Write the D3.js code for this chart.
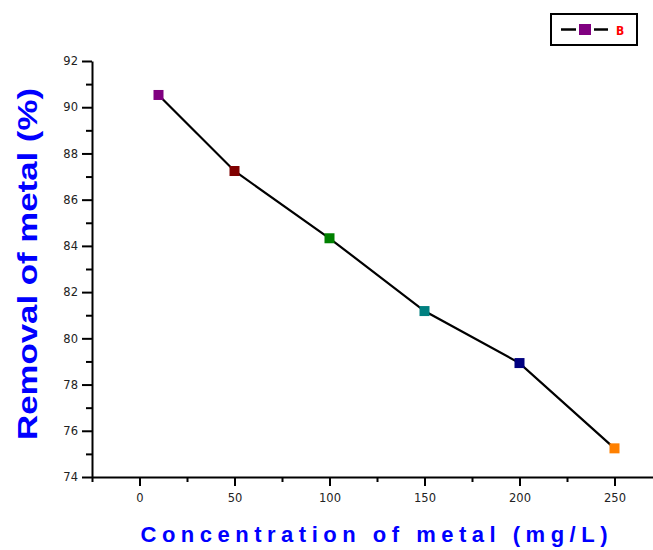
<!DOCTYPE html>
<html>
<head>
<meta charset="utf-8">
<script src="https://cdn.jsdelivr.net/npm/d3@7"></script>
<style>
  body { margin: 0; background: #fff; }
  svg { display: block; }
</style>
</head>
<body>
<svg id="chart" width="653" height="550"></svg>
<script>
// data
var concentration = [10, 50, 100, 150, 200, 250];
var removal = [90.53, 87.24, 84.33, 81.18, 78.93, 75.24];
var pointColours = ["#800080", "#800000", "#008000", "#008080", "#000080", "#ff8000"];
var xTicks = [0, 50, 100, 150, 200, 250];
var yTicks = [74, 76, 78, 80, 82, 84, 86, 88, 90, 92];
var seriesName = "B";

const svg = d3.select('#chart');

var x = d3.scaleLinear().domain([-25, 275]).range([92, 662]);
var y = d3.scaleLinear().domain([74, 92]).range([477, 61]);

// minor ticks first
svg.append('g')
    .attr('transform', 'translate(0,477)')
    .call(d3.axisBottom(x).tickValues([-25, 25, 75, 125, 175, 225, 275]).tickSize(5).tickFormat(''))
    .call(g => g.select('.domain').remove());
svg.append('g')
    .attr('transform', 'translate(92,0)')
    .call(d3.axisLeft(y).tickValues(d3.range(75, 92, 2)).tickSize(6).tickFormat(''))
    .call(g => g.select('.domain').remove());

var xAxis = svg.append('g')
    .attr('transform', 'translate(0,477)')
    .call(d3.axisBottom(x).tickValues(xTicks).tickSize(9).tickPadding(8).tickSizeOuter(0));
var yAxis = svg.append('g')
    .attr('transform', 'translate(92,0)')
    .call(d3.axisLeft(y).tickValues(yTicks).tickSize(10).tickPadding(4).tickSizeOuter(0));

svg.selectAll('.domain, .tick line').attr('stroke', '#000').attr('stroke-width', 2);
svg.selectAll('.tick text')
    .attr('fill', '#222')
    .style('font-family', 'DejaVu Sans, sans-serif')
    .style('font-size', '11.5px');

// line + markers
var line = d3.line()
    .x((d, i) => x(concentration[i]))
    .y(d => y(d));

svg.append('path')
    .datum(removal)
    .attr('d', line)
    .attr('fill', 'none')
    .attr('stroke', '#000')
    .attr('stroke-width', 2.2);

svg.selectAll('rect.pt').data(removal)
    .enter().append('rect')
    .attr('class', 'pt')
    .attr('x', (d, i) => x(concentration[i]) - 5)
    .attr('y', d => y(d) - 5)
    .attr('width', 10)
    .attr('height', 10)
    .attr('fill', (d, i) => pointColours[i]);

// axis titles
svg.append('text')
    .attr('x', 374)
    .attr('y', 542)
    .attr('text-anchor', 'middle')
    .attr('textLength', 467)
    .attr('lengthAdjust', 'spacing')
    .style('font-family', 'Liberation Sans, Arial, sans-serif')
    .style('font-weight', 'bold')
    .style('font-size', '22px')
    .attr('fill', '#0000ff')
    .text('Concentration of metal (mg/L)');

svg.append('text')
    .attr('transform', 'translate(37,264) rotate(-90)')
    .attr('text-anchor', 'middle')
    .attr('textLength', 352)
    .attr('lengthAdjust', 'spacingAndGlyphs')
    .style('font-family', 'Liberation Sans, Arial, sans-serif')
    .style('font-weight', 'bold')
    .style('font-size', '27px')
    .attr('fill', '#0000ff')
    .text('Removal of metal (%)');

// legend
var legend = svg.append('g');
legend.append('rect')
    .attr('x', 551).attr('y', 14)
    .attr('width', 86).attr('height', 31)
    .attr('fill', '#fff')
    .attr('stroke', '#000')
    .attr('stroke-width', 2);
legend.append('line')
    .attr('x1', 561).attr('x2', 576)
    .attr('y1', 29.5).attr('y2', 29.5)
    .attr('stroke', '#000').attr('stroke-width', 2.5);
legend.append('line')
    .attr('x1', 594).attr('x2', 608)
    .attr('y1', 29.5).attr('y2', 29.5)
    .attr('stroke', '#000').attr('stroke-width', 2.5);
legend.append('rect')
    .attr('x', 579).attr('y', 24)
    .attr('width', 12).attr('height', 11)
    .attr('fill', pointColours[0]);
legend.append('text')
    .attr('x', 616).attr('y', 35)
    .attr('fill', '#ff0000')
    .style('font-family', 'DejaVu Sans Condensed, sans-serif')
    .style('font-weight', 'bold')
    .style('font-size', '12px')
    .text(seriesName);
</script>
</body>
</html>
